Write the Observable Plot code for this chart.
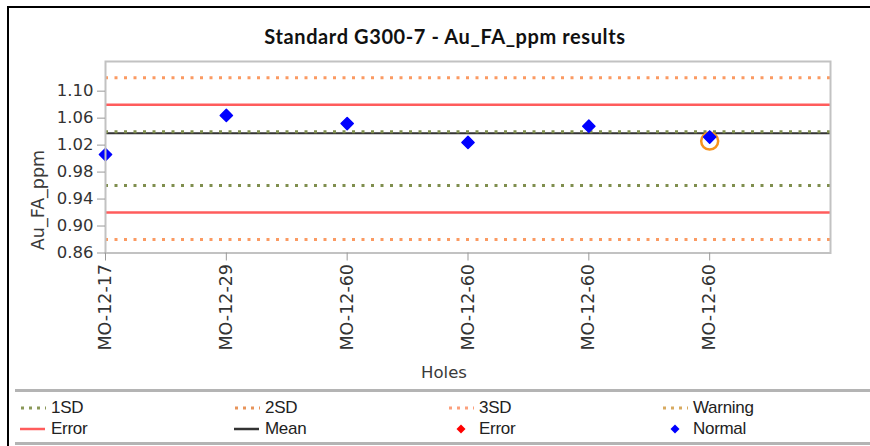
<!DOCTYPE html>
<html>
<head>
<meta charset="utf-8">
<script src="https://cdn.jsdelivr.net/npm/d3@7"></script>
<script src="https://cdn.jsdelivr.net/npm/@observablehq/plot@0.6"></script>
<style>
  body { margin: 0; background: #fff; }
  #chart { position: relative; width: 870px; height: 446px; overflow: hidden; background: #fff; }
  .edge-top { position: absolute; left: 7px; top: 6px; right: 0; height: 2px; background: #000; }
  .edge-left { position: absolute; left: 7px; top: 6px; bottom: 0; width: 2px; background: #000; }
  #plot { position: absolute; left: 0; top: 0; }
  .title { position: absolute; left: 0; width: 890px; top: 24px; text-align: center;
           font: bold 20px "Lato", "Open Sans", sans-serif; letter-spacing: 0.6px; color: #111; }
  .ylabel { position: absolute; left: 38px; top: 200px; transform: translate(-50%, -50%) rotate(-90deg);
            font: 17.5px "DejaVu Sans", sans-serif; color: #3a3a3a; white-space: nowrap; }
  .xlabel { position: absolute; left: 444px; top: 372px; transform: translate(-50%, -50%);
            font: 16.5px "DejaVu Sans", sans-serif; color: #3a3a3a; }
  .sep { position: absolute; left: 15px; right: 0; height: 3px; background: #b4b4b4; }
  .legend-item { position: absolute; display: flex; align-items: center; height: 20px;
                 font: 17px "Liberation Sans", Arial, sans-serif; color: #222; letter-spacing: -0.3px; }
  .legend-item svg { margin-right: 5px; }
  #plot svg [aria-label="y-axis tick"], #plot svg [aria-label="x-axis tick"] { stroke: #999; }
  #plot svg [aria-label="y-axis tick label"], #plot svg [aria-label="x-axis tick label"] { fill: #333; }
</style>
</head>
<body>
<div id="chart">
  <div class="edge-top"></div>
  <div class="edge-left"></div>
  <div id="plot"></div>
  <div class="title">Standard G300-7 - Au_FA_ppm results</div>
  <div class="ylabel">Au_FA_ppm</div>
  <div class="xlabel">Holes</div>
  <div class="sep" style="top:389px"></div>
  <div class="sep" style="top:442px"></div>
  <div id="legend"></div>
</div>
<script>
// Hole IDs of the standard's assays, in run order
const holes = ["MO-12-17", "MO-12-29", "MO-12-60", "MO-12-60", "MO-12-60", "MO-12-60"];
// Au fire-assay results (ppm)
const auValues = [1.006, 1.064, 1.052, 1.024, 1.048, 1.032];
// Control limits around the certified value
const oneSD = [0.96, 1.04];
const errorLimits = [0.92, 1.08];
const threeSD = [0.88, 1.12];
// Assay currently selected in the chart
const selectedIndex = [5];
// Y axis ticks
const yTicks = [0.86, 0.90, 0.94, 0.98, 1.02, 1.06, 1.10];

// Legend entries: label, swatch kind, colour
const legendLabels = ["1SD", "2SD", "3SD", "Warning", "Error", "Mean", "Error", "Normal"];
const legendKinds = ["dots", "dots", "dots", "dots", "line", "line", "diamond", "diamond"];
const legendColors = ["#8a9858", "#e8945a", "#fca07c", "#d8aa60", "#ff5c5c", "#333333", "#ff0000", "#0000ff"];

const points = holes.map((h, i) => ({i, hole: h, value: auValues[i]}));
const mean = d3.mean(auValues);

const colors = {
  oneSD: "#7f8e4e",
  threeSD: "#fb9a62",
  error: "#ff5c5c",
  mean: "#333333",
  normal: "#0000ff",
  ring: "#f7941d"
};

const chart = Plot.plot({
  width: 870,
  height: 390,
  marginLeft: 105,
  marginRight: 40,
  marginTop: 61,
  marginBottom: 137.5,
  style: {fontFamily: "'DejaVu Sans', sans-serif", fontSize: "16px", background: "transparent"},
  x: {type: "linear", domain: [0, holes.length]},
  y: {domain: [0.86, 1.144]},
  marks: [
    Plot.ruleY(threeSD, {stroke: colors.threeSD, strokeWidth: 3, strokeDasharray: "3,6.5"}),
    Plot.ruleY(errorLimits, {stroke: colors.error, strokeWidth: 2.5}),
    Plot.ruleY([mean], {stroke: colors.mean, strokeWidth: 2}),
    Plot.ruleY(oneSD, {stroke: colors.oneSD, strokeWidth: 3, strokeDasharray: "3,6.5"}),
    Plot.dot(selectedIndex.map(i => points[i]), {x: "i", y: "value", r: 8.5, dy: 4, stroke: colors.ring, strokeWidth: 2.5, fill: "#fff"}),
    Plot.dot(points, {x: "i", y: "value", symbol: "diamond2", r: 5.5, fill: colors.normal, stroke: colors.normal, strokeWidth: 1.5, strokeLinejoin: "round"}),
    Plot.frame({stroke: "#c2c2c2", strokeWidth: 2}),
    Plot.axisY({ticks: yTicks, tickFormat: d3.format(".2f"), tickSize: 8, tickPadding: 4, label: null, fontSize: 16.5}),
    Plot.axisX({ticks: d3.range(holes.length), tickFormat: i => holes[i], tickRotate: -90, tickSize: 8, tickPadding: 3, label: null, fontSize: 17.5})
  ]
});
document.getElementById("plot").appendChild(chart);

// Legend: four columns, two rows
const legend = document.getElementById("legend");
legendLabels.forEach((label, k) => {
  const col = k % 4, row = Math.floor(k / 4);
  const item = document.createElement("div");
  item.className = "legend-item";
  item.style.left = (20 + col * 214) + "px";
  item.style.top = (398 + row * 21) + "px";
  const kind = legendKinds[k], c = legendColors[k];
  let sw;
  if (kind === "dots") {
    sw = `<svg width="26" height="10"><line x1="1" x2="26" y1="5" y2="5" stroke="${c}" stroke-width="3" stroke-dasharray="3,5"/></svg>`;
  } else if (kind === "line") {
    sw = `<svg width="26" height="10"><line x1="0" x2="25" y1="5" y2="5" stroke="${c}" stroke-width="2.5"/></svg>`;
  } else {
    sw = `<svg width="26" height="10"><path d="M13,0.5L17.5,5L13,9.5L8.5,5Z" fill="${c}"/></svg>`;
  }
  item.innerHTML = sw + `<span>${label}</span>`;
  legend.appendChild(item);
});
</script>
</body>
</html>
